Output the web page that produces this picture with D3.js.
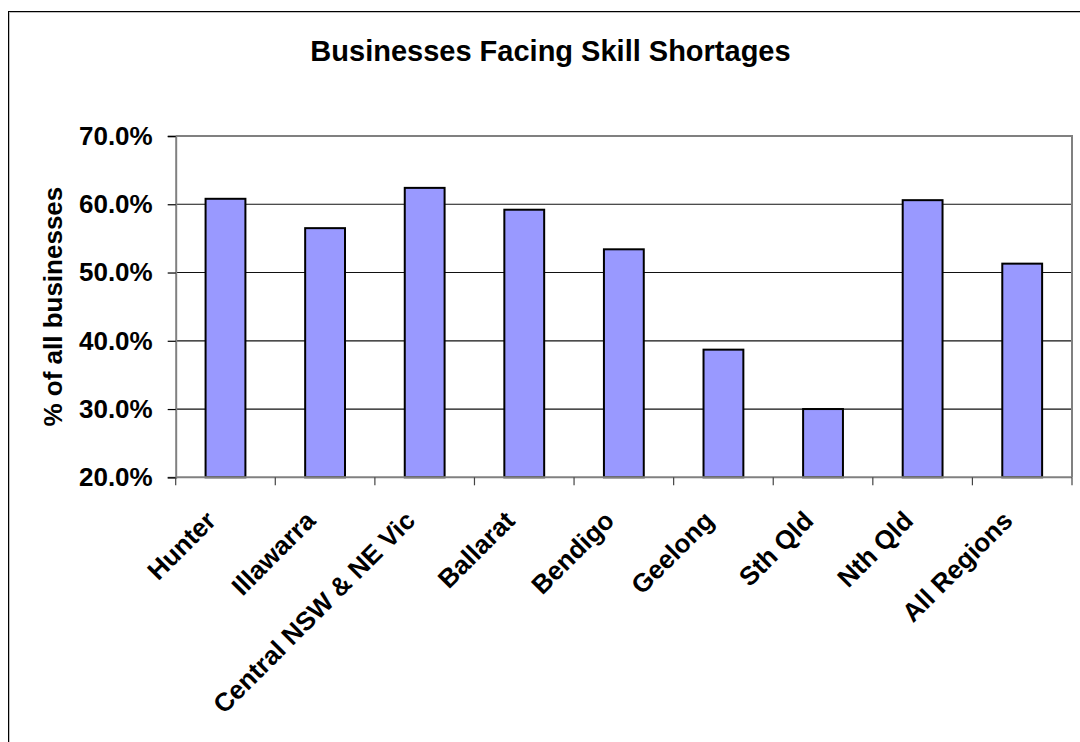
<!DOCTYPE html>
<html>
<head>
<meta charset="utf-8">
<script src="https://cdn.jsdelivr.net/npm/d3@7"></script>
<style>
  html, body { margin: 0; padding: 0; background: #fff; }
  svg { display: block; font-family: "Liberation Sans", Arial, sans-serif; }
</style>
</head>
<body>
<svg id="chart" width="1080" height="742"></svg>
<script>
const categories = ["Hunter", "Illawarra", "Central NSW & NE Vic", "Ballarat", "Bendigo", "Geelong", "Sth Qld", "Nth Qld", "All Regions"];
const values = [60.8, 56.5, 62.4, 59.2, 53.4, 38.7, 30.0, 60.6, 51.3];
const yTicks = [20, 30, 40, 50, 60, 70];
const titleText = "Businesses Facing Skill Shortages";
const yAxisTitle = "% of all businesses";

const svg = d3.select("#chart");
const plot = { left: 175.7, right: 1072, top: 136, bottom: 477.3 };

// outer frame
svg.append("rect").attr("x", 9.5).attr("y", 12.5).attr("width", 1100).attr("height", 800)
  .attr("fill", "none").attr("stroke", "#c0c0c0").attr("stroke-width", 1);
svg.append("rect").attr("x", 8.5).attr("y", 11.5).attr("width", 1100).attr("height", 800)
  .attr("fill", "none").attr("stroke", "#000").attr("stroke-width", 1);

const x = d3.scaleBand().domain(categories).range([plot.left, plot.right]).padding(0);
const y = d3.scaleLinear().domain([20, 70]).range([plot.bottom, plot.top]);

// gridlines
svg.append("g").selectAll("line").data(yTicks.filter(t => t > 20 && t < 70)).join("line")
  .attr("x1", plot.left).attr("x2", plot.right)
  .attr("y1", d => y(d)).attr("y2", d => y(d))
  .attr("stroke", "#111").attr("stroke-width", 1.2);

// plot border (top/right) gray
svg.append("path")
  .attr("d", `M${plot.left},${plot.top}H${plot.right}V${plot.bottom}`)
  .attr("fill", "none").attr("stroke", "#808080").attr("stroke-width", 2);

// bars
svg.append("g").selectAll("rect").data(values).join("rect")
  .attr("x", (d, i) => x(categories[i]) + x.bandwidth() * 0.3)
  .attr("width", x.bandwidth() * 0.4)
  .attr("y", d => y(d))
  .attr("height", d => y(20) - y(d))
  .attr("fill", "#9999FF").attr("stroke", "#000").attr("stroke-width", 2);

// y axis
const yAxis = d3.axisLeft(y).tickValues(yTicks).tickSize(8).tickPadding(15)
  .tickFormat(d => d.toFixed(1) + "%");
const gy = svg.append("g").attr("transform", `translate(${plot.left},0)`).call(yAxis);
gy.select(".domain").attr("stroke", "#808080").attr("stroke-width", 2);
gy.selectAll(".tick line").attr("stroke", "#000").attr("stroke-width", 1.2);
gy.selectAll(".tick text").attr("font-size", 26).attr("font-weight", "bold")
  .attr("fill", "#000").attr("font-family", "Liberation Sans, Arial, sans-serif");

// x axis baseline and ticks at band boundaries
const boundaries = categories.map(c => x(c)).concat([plot.right]);
svg.append("line").attr("x1", plot.left).attr("x2", plot.right)
  .attr("y1", plot.bottom).attr("y2", plot.bottom)
  .attr("stroke", "#808080").attr("stroke-width", 2);
svg.append("g").selectAll("line").data(boundaries).join("line")
  .attr("x1", d => d).attr("x2", d => d)
  .attr("y1", plot.bottom).attr("y2", plot.bottom + 8)
  .attr("stroke", "#444").attr("stroke-width", 1.2);

// x labels rotated
svg.append("g").selectAll("text").data(categories).join("text")
  .attr("transform", d => `translate(${x(d) + x.bandwidth() / 2 - 8},${plot.bottom + 45}) rotate(-45)`)
  .attr("text-anchor", "end")
  .attr("font-size", 26).attr("font-weight", "bold").attr("fill", "#000")
  .text(d => d);

// title
svg.append("text").attr("x", 550.5).attr("y", 61).attr("text-anchor", "middle")
  .attr("font-size", 29).attr("font-weight", "bold").attr("fill", "#000").text(titleText);

// y axis title
svg.append("text")
  .attr("transform", `translate(62,${(plot.top + plot.bottom) / 2}) rotate(-90)`)
  .attr("text-anchor", "middle")
  .attr("font-size", 26).attr("font-weight", "bold").attr("fill", "#000").text(yAxisTitle);
</script>
</body>
</html>
